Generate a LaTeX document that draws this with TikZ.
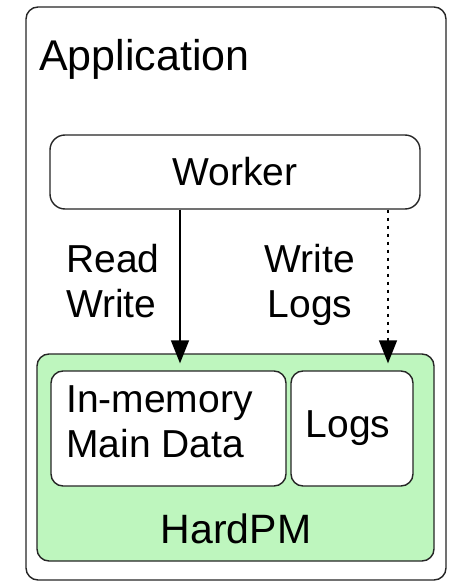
\documentclass[tikz,border=0pt]{standalone}
\usepackage{fontspec}
\setmainfont{Liberation Sans}
\usetikzlibrary{arrows.meta}
\definecolor{pmgreen}{RGB}{190,246,190}
\begin{document}
\begin{tikzpicture}[x=1pt,y=-1pt,
  box/.style={draw=black!85,line width=1.4pt,rounded corners=12pt,inner sep=0pt},
  lbl/.style={inner sep=0pt,font=\fontsize{39}{45}\selectfont},
  arr/.style={line width=1.4pt,-{Triangle[length=23pt,width=18pt]}}]
\useasboundingbox (0,0) rectangle (449,583);
\node[box,fill=white,minimum width=420pt,minimum height=573pt] (app) at (236,293.5) {};
\node[lbl,anchor=base west,font=\fontsize{43}{48}\selectfont] (apptxt) at (39,71) {Application};
\node[box,fill=white,rounded corners=15pt,minimum width=370pt,minimum height=74pt] (worker) at (235,172) {};
\node[lbl] (workertxt) at (235,172) {Worker};
\node[box,fill=pmgreen,minimum width=397pt,minimum height=207pt] (hard) at (235.5,457.5) {};
\node[box,fill=white,minimum width=235pt,minimum height=115pt] (mem) at (168.5,428.5) {};
\node[box,fill=white,minimum width=122pt,minimum height=115pt] (logs) at (352,428.5) {};
\node[lbl,align=left,anchor=north west] (memtxt) at (66,385) {In-memory\\Main Data};
\node[lbl] (logstxt) at (348,428) {Logs};
\node[lbl,anchor=base,font=\fontsize{41}{45}\selectfont] (hardtxt) at (236,543) {HardPM};
\node[lbl,align=left,anchor=north west] (rw) at (66,244) {Read\\Write};
\node[lbl,align=center,anchor=north] (wl) at (310,244) {Write\\Logs};
\draw[arr] (worker.south -| 180,0) -- ([yshift=-10pt]hard.north -| 180,0);
\draw[arr,dash pattern=on 3pt off 5pt] (worker.south -| 388,0) -- ([yshift=-10pt]hard.north -| 388,0);
\end{tikzpicture}
\end{document}
